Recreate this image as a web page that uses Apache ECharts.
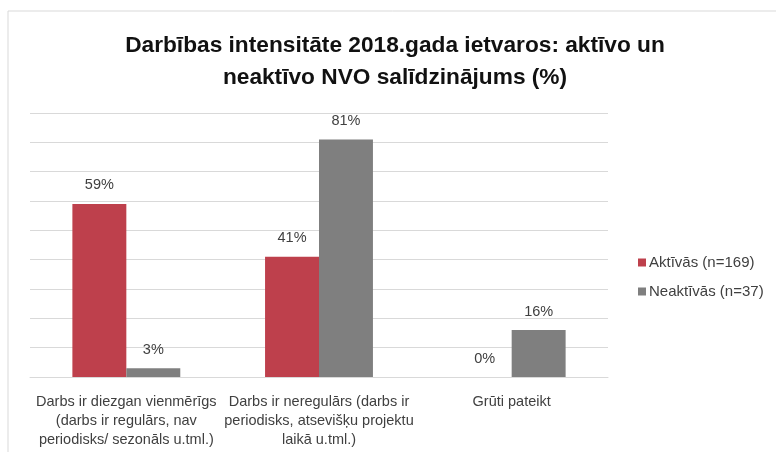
<!DOCTYPE html>
<html>
<head>
<meta charset="utf-8">
<script src="https://cdn.jsdelivr.net/npm/echarts@6/dist/echarts.min.js"></script>
<style>
  html, body { margin: 0; padding: 0; background: #fff; }
  #chart { width: 776px; height: 452px; }
</style>
</head>
<body>
<div id="chart"></div>
<script>
// kategorijas un vērtības (%)
const categories = [
  'Darbs ir diezgan vienmērīgs\n(darbs ir regulārs, nav\nperiodisks/ sezonāls u.tml.)',
  'Darbs ir neregulārs (darbs ir\nperiodisks, atsevišķu projektu\nlaikā u.tml.)',
  'Grūti pateikt'
]
const seriesNames = ['Aktīvās (n=169)', 'Neaktīvās (n=37)']
const aktivas = [59, 41, 0]
const neaktivas = [3, 81, 16]
const yTicks = { min: 0, max: 90, interval: 10 }

const font = 'Liberation Sans, Arial, sans-serif'
const chart = echarts.init(document.getElementById('chart'))

const label = {
  show: true,
  position: 'top',
  distance: 11,
  formatter: '{c}%',
  color: '#404040',
  fontSize: 14.5,
  fontFamily: font
}

chart.setOption({
  animation: false,
  title: {
    text: 'Darbības intensitāte 2018.gada ietvaros: aktīvo un\nneaktīvo NVO salīdzinājums (%)',
    left: 390,
    top: 25,
    textAlign: 'center',
    textStyle: {
      fontSize: 22.7,
      fontWeight: 'bold',
      color: '#111',
      fontFamily: font,
      lineHeight: 32
    }
  },
  graphic: [{
    type: 'rect',
    shape: { x: 8, y: 11, width: 800, height: 500 },
    style: { fill: 'none', stroke: '#d9d9d9', lineWidth: 1 },
    silent: true
  }],
  legend: {
    orient: 'vertical',
    left: 633,
    top: 250,
    itemWidth: 8,
    itemHeight: 8,
    itemGap: 14,
    icon: 'rect',
    data: seriesNames,
    textStyle: { color: '#404040', fontSize: 15, fontFamily: font, padding: [0, 0, 0, -2] }
  },
  grid: { left: 30, right: 168, top: 113, bottom: 75 },
  xAxis: {
    type: 'category',
    data: categories,
    axisTick: { show: false },
    axisLine: { lineStyle: { color: '#d9d9d9' } },
    axisLabel: {
      interval: 0,
      margin: 15,
      color: '#404040',
      fontSize: 14.5,
      lineHeight: 19,
      fontFamily: font
    }
  },
  yAxis: {
    type: 'value',
    min: yTicks.min,
    max: yTicks.max,
    interval: yTicks.interval,
    axisLabel: { show: false },
    axisLine: { show: false },
    axisTick: { show: false },
    splitLine: { lineStyle: { color: '#d9d9d9' } }
  },
  series: [
    {
      name: seriesNames[0],
      type: 'bar',
      data: aktivas,
      barGap: '0%',
      barCategoryGap: '44%',
      itemStyle: { color: '#be404c' },
      label: label
    },
    {
      name: seriesNames[1],
      type: 'bar',
      data: neaktivas,
      itemStyle: { color: '#7f7f7f' },
      label: label
    }
  ]
})
</script>
</body>
</html>
